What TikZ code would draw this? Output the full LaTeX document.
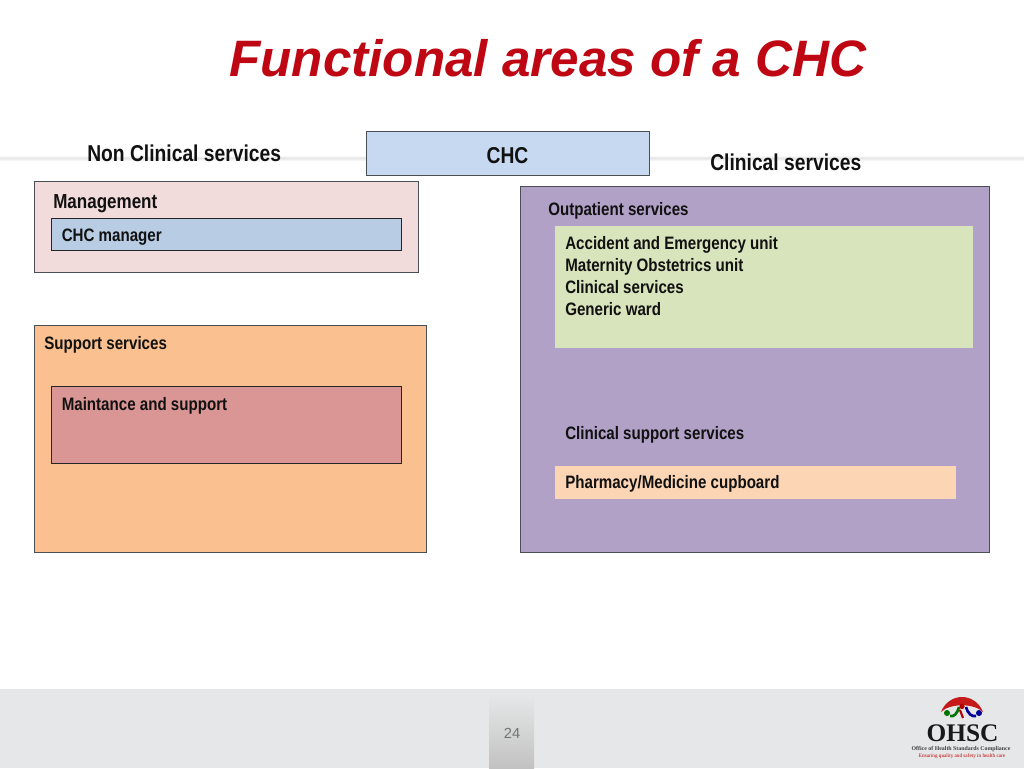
\documentclass[tikz,border=0pt]{standalone}
\usepackage{fontspec}
\setmainfont{Liberation Sans}
\newfontfamily\narrowb[FakeStretch=0.84]{Liberation Sans}
\newfontfamily\logoserif{Liberation Serif}
\usetikzlibrary{shadings}
\definecolor{titlered}{HTML}{BE0712}
\definecolor{edge}{HTML}{4A4F55}
\definecolor{txt}{HTML}{111111}
\definecolor{footgrey}{HTML}{E6E7E8}
\definecolor{chcfill}{RGB}{198,217,240}
\definecolor{mgmtfill}{RGB}{242,220,219}
\definecolor{mgrfill}{RGB}{184,204,228}
\definecolor{supfill}{RGB}{250,192,144}
\definecolor{mntfill}{RGB}{217,150,148}
\definecolor{clinfill}{RGB}{178,161,199}
\definecolor{unitfill}{RGB}{216,228,188}
\definecolor{phfill}{RGB}{252,213,181}
\tikzset{
  px/.style={x=0.75pt,y=-0.75pt},
  panel/.style={draw=edge,line width=0.5pt},
  inner/.style={draw=black!85,line width=0.55pt},
  lbl/.style={anchor=west,inner sep=0pt,text=txt,font=\narrowb\bfseries\fontsize{13.5pt}{16pt}\selectfont},
  lblbig/.style={lbl,font=\narrowb\bfseries\fontsize{17.2pt}{20pt}\selectfont},
}
\begin{document}
\begin{tikzpicture}[px]
\useasboundingbox (0,0) rectangle (1024,768);
\fill[white] (0,0) rectangle (1024,768);
% faint band behind header
\shade[top color=white,bottom color=black!10] (0,155) rectangle (1024,158);
\shade[top color=black!10,bottom color=white] (0,158) rectangle (1024,161);
% footer
\fill[footgrey] (0,690) rectangle (1024,768);
\draw[black!10,line width=0.5pt] (0,689.5) -- (1024,689.5);
\shade[top color=footgrey,bottom color=black!24] (489,695) rectangle (534,768);
\node[font=\fontsize{11pt}{13pt}\selectfont,text=black!55,inner sep=0pt] (pagenum) at (512,733) {24};
% title
\node[anchor=west,inner sep=0pt,text=titlered,font=\bfseries\itshape\fontsize{38.4pt}{44pt}\selectfont] (title) at (229,58) {Functional areas of a CHC};
% CHC
\filldraw[panel,fill=chcfill] (366.5,131.5) rectangle (649,175.5);
\node[lblbig,anchor=center] (chc) at (507.5,155.5) {CHC};
\node[lblbig] (nonclin) at (87,153) {Non Clinical services};
\node[lblbig] (clin) at (710,162) {Clinical services};
% Management
\filldraw[panel,fill=mgmtfill] (34,181.5) rectangle (418,272.5);
\node[lbl,font=\narrowb\bfseries\fontsize{15.2pt}{17pt}\selectfont] (mgmt) at (53,203.5) {Management};
\filldraw[inner,fill=mgrfill] (51,218.5) rectangle (401,250.5);
\node[lbl] (mgr) at (61.5,237.5) {CHC manager};
% Support
\filldraw[panel,fill=supfill] (34,325.5) rectangle (426,552);
\node[lbl] (support) at (44,344.5) {Support services};
\filldraw[inner,fill=mntfill] (51,386.5) rectangle (401,463.5);
\node[lbl] (maint) at (61.5,405.5) {Maintance and support};
% Clinical panel
\filldraw[panel,fill=clinfill] (520,186.5) rectangle (989.5,552);
\node[lbl] (outp) at (548,210.5) {Outpatient services};
\fill[unitfill] (555,226) rectangle (973,348);
\node[lbl,anchor=north west,align=left,font=\narrowb\bfseries\fontsize{13.5pt}{16.5pt}\selectfont] (units) at (565,236.5) {Accident and Emergency unit\\Maternity Obstetrics unit\\Clinical services\\Generic ward};
\node[lbl] (clinsup) at (565,435) {Clinical support services};
\fill[phfill] (555,466) rectangle (956,499);
\node[lbl] (pharm) at (565,484) {Pharmacy/Medicine cupboard};
% logo
\fill[red!75!black!90] (941,712) .. controls (949,692) and (975,692) .. (983,712) .. controls (974,703) and (950,703) .. (941,712) -- cycle;
\fill[green!45!black] (947,713) circle (3);
\draw[green!45!black,line width=2pt] (950,716) .. controls (954,717) and (957,714) .. (959,707);
\fill[red!70!black] (962,706.5) circle (2.6);
\fill[blue!60!black] (979,713) circle (3);
\draw[blue!60!black,line width=2pt] (976,716) .. controls (972,717) and (968,714) .. (966,707);
\draw[red!70!black,line width=1.6pt] (960,710) -- (963,718);
\node[inner sep=0pt,text=black!90,font=\logoserif\bfseries\fontsize{19pt}{20pt}\selectfont] (ohsc) at (962.5,733) {OHSC};
\node[inner sep=0pt,text=black!75,font=\logoserif\bfseries\fontsize{4.4pt}{6pt}\selectfont] (office) at (961,749) {Office of Health Standards Compliance};
\node[inner sep=0pt,text=red!75!black,font=\logoserif\fontsize{3.9pt}{5pt}\selectfont] (ensure) at (962,756.5) {Ensuring quality and safety in health care};
\end{tikzpicture}
\end{document}
